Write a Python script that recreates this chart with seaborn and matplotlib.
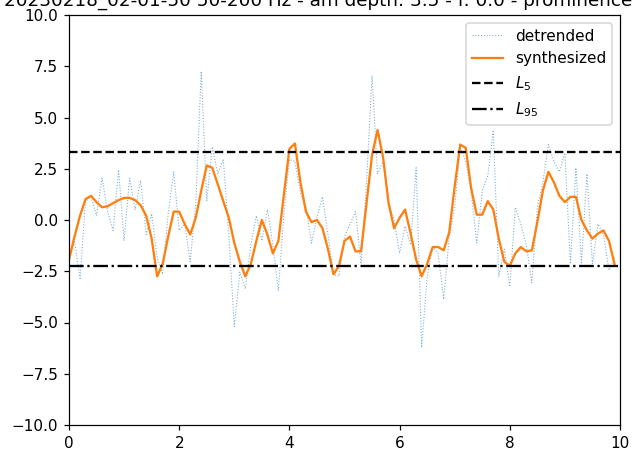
import numpy as np
import pandas as pd
import matplotlib
matplotlib.use("Agg")
import matplotlib.pyplot as plt
import seaborn as sns

time_s = [round(i * 0.1, 1) for i in range(100)]

detrended = [
    -1.93, -1.02, -2.85, 0.92, 1.13, 0.21, 2.04, 0.41, -0.51, 2.45,
    -1.02, 2.04, 0.51, 1.94, -0.71, 0.31, -1.83, -2.65, 0.31, 2.35,
    -0.51, -0.20, -2.04, 0.82, 7.25, 0.92, 3.57, 2.25, 2.96, -0.71,
    -5.20, -2.55, -3.36, -1.22, 0.21, -1.02, 0.51, -1.22, -3.46, 0.31,
    2.96, 2.86, 1.33, 0.62, -1.12, 0.11, 1.13, -0.71, -2.65, -2.75,
    -0.81, -0.20, 0.41, -2.14, 1.84, 7.04, 2.25, 2.86, 0.82, 0.00,
    -1.63, -0.30, -1.22, 2.55, -6.22, -2.75, -1.32, -1.63, -3.87, -0.81,
    0.62, 3.57, 2.86, 1.33, -1.12, 1.43, 2.15, 4.39, -2.75, -1.42,
    -3.26, 0.62, -0.20, -1.22, -3.06, 0.62, 1.84, 3.68, 2.86, 2.35,
    3.27, -2.14, 2.55, -2.14, 2.25, -2.14, -0.20, -0.71, -2.45, -1.83,
]

synthesized = [
    -1.93, -0.81, 0.21, 1.02, 1.18, 0.87, 0.62, 0.67, 0.82, 0.97,
    1.08, 1.08, 0.97, 0.72, 0.21, -0.91, -2.75, -2.14, -0.81, 0.41,
    0.41, -0.20, -0.71, 0.11, 1.43, 2.66, 2.55, 1.74, 0.92, 0.11,
    -1.12, -2.04, -2.75, -2.14, -1.02, 0.00, -0.71, -1.63, -1.02, 1.23,
    3.47, 3.73, 1.84, 0.41, -0.10, 0.00, -0.40, -1.42, -2.65, -2.24,
    -1.02, -0.81, -1.53, -1.53, 0.82, 3.17, 4.39, 3.06, 0.82, -0.40,
    0.11, 0.51, -0.66, -1.93, -2.75, -2.14, -1.32, -1.32, -1.48, -0.61,
    1.64, 3.68, 3.52, 1.53, 0.26, 0.26, 0.92, 0.51, -0.91, -2.04,
    -2.24, -1.63, -1.32, -1.53, -1.48, -0.10, 1.43, 2.35, 1.84, 1.18,
    0.87, 1.13, 1.13, 0.00, -0.51, -0.91, -0.66, -0.51, -1.02, -2.14,
]

L5 = 3.30
L95 = -2.23

title_text = "20230218_02-01-50 50-200 Hz - am depth: 3.5 - f: 0.0 - prominence: 0.25"

df = pd.DataFrame({"t": time_s, "detrended": detrended, "synthesized": synthesized})

DPI = 110
fig = plt.figure(figsize=(632 / DPI, 450 / DPI), dpi=DPI)
ax = fig.add_axes([69 / 632, 25 / 450, 551 / 632, 410 / 450])

sns.lineplot(data=df, x="t", y="detrended", ax=ax, color="tab:blue",
             linestyle=":", linewidth=0.7, alpha=0.6, label="detrended")
sns.lineplot(data=df, x="t", y="synthesized", ax=ax, color="tab:orange",
             linewidth=1.5, label="synthesized")
ax.axhline(L5, color="black", linestyle="--", linewidth=1.5, label="$L_5$")
ax.axhline(L95, color="black", linestyle="-.", linewidth=1.5, label="$L_{95}$")

ax.set_xlim(0, 10)
ax.set_ylim(-10, 10)
ax.set_yticks(np.arange(-10, 10.01, 2.5))
ax.set_xlabel("")
ax.set_ylabel("")
ax.set_title(title_text)
ax.legend(loc="upper right")

fig.savefig("out.png", dpi=DPI)
